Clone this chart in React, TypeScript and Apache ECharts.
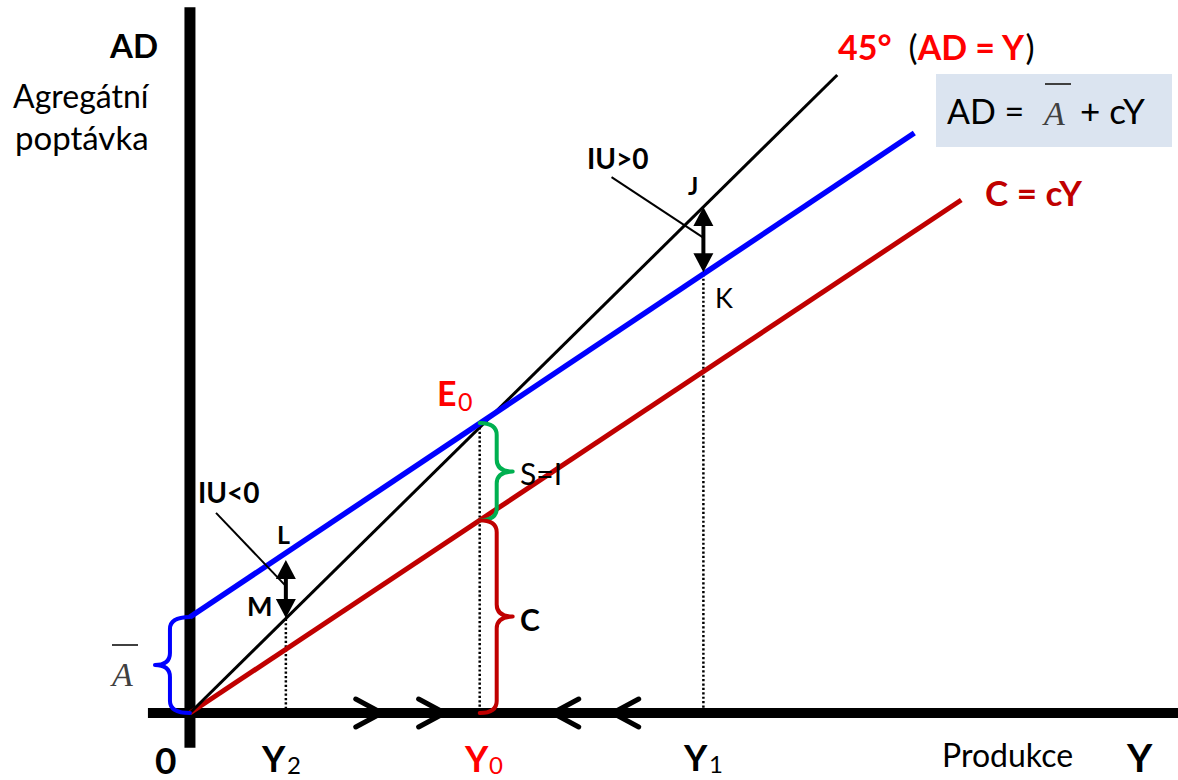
import React, { useEffect, useRef } from 'react';
import * as echarts from 'echarts';

const FONT = 'Lato, "Liberation Sans", sans-serif';
const SERIF = '"Liberation Serif", "DejaVu Serif", serif';

// Data units: output Y on the horizontal axis, aggregate demand AD on the vertical axis
const xRange = [-20, 341];
const yRange = [-20, 244];

const axisXLine = [[-14.5, 0], [341, 0]];
const axisYLine = [[0, -12], [0, 243.4]];

const line45 = [[0, 0], [223.4, 220]];
const lineAD = [[0, 33.1], [250, 200]];
const lineC = [[0, 0], [266.2, 176.9]];

const outY2 = 33.1;
const outY0 = 100;
const outY1 = 177.2;

const dropY2 = [[outY2, 32.5], [outY2, 0]];
const dropY0 = [[outY0, 100], [outY0, 0]];
const dropY1 = [[outY1, 151.3], [outY1, 0]];

// [x, from, to] : unplanned inventory arrows L->M and J->K
const iuArrows = [[outY2, 52.8, 32.8], [outY1, 174.5, 152]];

const leaderIUneg = [[9.0, 69.0], [32.8, 44.1]];
const leaderIUpos = [[145.5, 184.8], [176.9, 164.1]];

// [x, high, low]
const braceA = [0, 33.1, 0];
const braceS = [outY0, 100, 66.5];
const braceC = [outY0, 66.5, 0];

// chevron tips on the output axis
const flowRight = [66.2, 87.9];
const flowLeft = [125.2, 145.9];

function lineSeries(data: number[][], color: string, width: number, z = 3, type: any = 'solid') {
  return {
    type: 'line',
    data,
    symbol: 'none',
    silent: true,
    clip: false,
    z,
    lineStyle: { color, width, type, cap: 'butt' },
  };
}

function braceSeries(d: number[], side: number, color: string, a: number, w: number) {
  return {
    type: 'custom',
    coordinateSystem: 'cartesian2d',
    data: [d],
    silent: true,
    z: 6,
    renderItem: (params: any, api: any) => {
      const top = api.coord([api.value(0), api.value(1)]);
      const bot = api.coord([api.value(0), api.value(2)]);
      const x = top[0];
      const y1 = top[1];
      const y2 = bot[1];
      const ym = (y1 + y2) / 2;
      const r = Math.min(12, (y2 - y1) / 4);
      const xa = x + side * a;
      const xt = x + side * w;
      const pd = `M${x},${y1} Q${xa},${y1} ${xa},${y1 + r} L${xa},${ym - r} Q${xa},${ym} ${xt},${ym} Q${xa},${ym} ${xa},${ym + r} L${xa},${y2 - r} Q${xa},${y2} ${x},${y2}`;
      return {
        type: 'path',
        shape: { pathData: pd },
        style: { fill: 'none', stroke: color, lineWidth: 4, lineCap: 'round', lineJoin: 'round' },
      };
    },
  };
}

function chevronSeries(tips: number[], dir: number) {
  return {
    type: 'custom',
    coordinateSystem: 'cartesian2d',
    data: tips.map((t) => [t, 0]),
    silent: true,
    z: 6,
    renderItem: (params: any, api: any) => {
      const p = api.coord([api.value(0), api.value(1)]);
      return {
        type: 'polyline',
        shape: { points: [[p[0] - dir * 26, p[1] - 14], [p[0], p[1]], [p[0] - dir * 26, p[1] + 14]] },
        style: { fill: 'none', stroke: '#000', lineWidth: 5, lineCap: 'round', lineJoin: 'round' },
      };
    },
  };
}

function doubleArrowSeries(arrows: number[][]) {
  return {
    type: 'custom',
    coordinateSystem: 'cartesian2d',
    data: arrows,
    silent: true,
    z: 7,
    renderItem: (params: any, api: any) => {
      const a = api.coord([api.value(0), api.value(1)]);
      const b = api.coord([api.value(0), api.value(2)]);
      const hl = 19;
      const hw = 10;
      const x = a[0];
      return {
        type: 'group',
        children: [
          { type: 'line', shape: { x1: x, y1: a[1] + hl - 1, x2: x, y2: b[1] - hl + 1 }, style: { stroke: '#000', lineWidth: 4 } },
          { type: 'polygon', shape: { points: [[x, a[1]], [x - hw, a[1] + hl], [x + hw, a[1] + hl]] }, style: { fill: '#000' } },
          { type: 'polygon', shape: { points: [[x, b[1]], [x - hw, b[1] - hl], [x + hw, b[1] - hl]] }, style: { fill: '#000' } },
        ],
      };
    },
  };
}

function txt(text: string, x: number, y: number, size: number, opts: any = {}) {
  return {
    type: 'text',
    x,
    y,
    silent: true,
    z: 20,
    style: {
      text,
      fontFamily: opts.family || FONT,
      fontSize: size,
      lineHeight: size,
      fontWeight: opts.bold ? 'bold' : 'normal',
      fontStyle: opts.italic ? 'italic' : 'normal',
      fill: opts.color || '#000',
      align: 'left',
      verticalAlign: 'middle',
      rich: opts.rich,
    },
  };
}

function hline(x1: number, x2: number, y: number, color: string, w: number) {
  return { type: 'line', silent: true, z: 20, shape: { x1, y1: y, x2, y2: y }, style: { stroke: color, lineWidth: w } };
}

export default function App() {
  const ref = useRef<HTMLDivElement>(null);

  useEffect(() => {
    if (!ref.current) return;
    const chart = echarts.init(ref.current, null, { renderer: 'svg' });
    const gridLeft = 190 + xRange[0] * 2.9;
    const gridTop = 713 - yRange[1] * 2.9;
    const ens = '\u2002';
    const option: any = {
      animation: false,
      backgroundColor: '#fff',
      grid: {
        left: gridLeft,
        top: gridTop,
        width: (xRange[1] - xRange[0]) * 2.9,
        height: (yRange[1] - yRange[0]) * 2.9,
      },
      xAxis: { type: 'value', min: xRange[0], max: xRange[1], show: false },
      yAxis: { type: 'value', min: yRange[0], max: yRange[1], show: false },
      series: [
        lineSeries(axisXLine, '#000', 10, 2),
        lineSeries(axisYLine, '#000', 11, 2),
        lineSeries(dropY2, '#000', 2.5, 3, [2.2, 2.2]),
        lineSeries(dropY0, '#000', 2.5, 3, [2.2, 2.2]),
        lineSeries(dropY1, '#000', 2.5, 3, [2.2, 2.2]),
        lineSeries(lineC, '#c00000', 5, 4),
        lineSeries(line45, '#000', 3, 4),
        lineSeries(lineAD, '#0000ff', 5.5, 4),
        lineSeries(leaderIUneg, '#000', 2, 5),
        lineSeries(leaderIUpos, '#000', 2, 5),
        braceSeries(braceA, -1, '#0000ff', 20, 35),
        braceSeries(braceS, 1, '#00b050', 17, 33),
        braceSeries(braceC, 1, '#c00000', 17, 33),
        chevronSeries(flowRight, 1),
        chevronSeries(flowLeft, -1),
        doubleArrowSeries(iuArrows),
      ],
      graphic: [
        { type: 'rect', silent: true, z: 1, shape: { x: 936, y: 74, width: 236, height: 73 }, style: { fill: '#dbe4f0' } },
        txt('AD', 110, 45, 33, { bold: true }),
        txt('Agregátní', 13, 95, 32),
        txt('poptávka', 15, 137, 33),
        txt(`{r|45°}{p|${ens}(}{r|AD = Y}{p|)}`, 838, 46, 34, {
          rich: {
            r: { fill: '#ff0000', fontWeight: 'bold', fontSize: 34, lineHeight: 34, fontFamily: FONT },
            p: { fill: '#000', fontWeight: 'normal', fontSize: 34, lineHeight: 34, fontFamily: FONT },
          },
        }),
        txt('AD = ', 947, 110, 34),
        txt('A', 1044, 113, 34, { italic: true, family: SERIF, color: '#404040' }),
        hline(1045, 1071, 84, '#404040', 2),
        txt('+ cY', 1080, 110, 35),
        txt('C = cY', 985, 192, 35, { bold: true, color: '#c00000' }),
        txt('IU>0', 587, 158, 28, { bold: true }),
        txt('J', 688, 185, 24, { bold: true }),
        txt('K', 715, 297, 27),
        txt('E', 437, 392, 34, { bold: true, color: '#ff0000' }),
        txt('0', 458, 401, 25, { color: '#ff0000' }),
        txt('S=I', 520, 473, 30),
        txt('C', 520, 619, 30, { bold: true }),
        txt('IU<0', 198, 492, 28, { bold: true }),
        txt('L', 277, 534, 25, { bold: true }),
        txt('M', 247, 605, 27, { bold: true }),
        txt('A', 112, 674, 34, { italic: true, family: SERIF, color: '#404040' }),
        hline(112, 138, 645, '#404040', 2),
        txt('0', 155, 759, 37, { bold: true }),
        txt('Y', 262, 758, 36, { bold: true }),
        txt('2', 287, 764, 24),
        txt('Y', 465, 758, 36, { bold: true, color: '#ff0000' }),
        txt('0', 489, 764, 24, { color: '#ff0000' }),
        txt('Y', 684, 757, 36, { bold: true }),
        txt('1', 709, 763, 24),
        txt('Produkce', 942, 754, 32),
        txt('Y', 1127, 757, 39, { bold: true }),
      ],
    };
    chart.setOption(option);
    return () => chart.dispose();
  }, []);

  return <div ref={ref} style={{ position: 'absolute', left: 0, top: 0, width: 1178, height: 780 }} />;
}
